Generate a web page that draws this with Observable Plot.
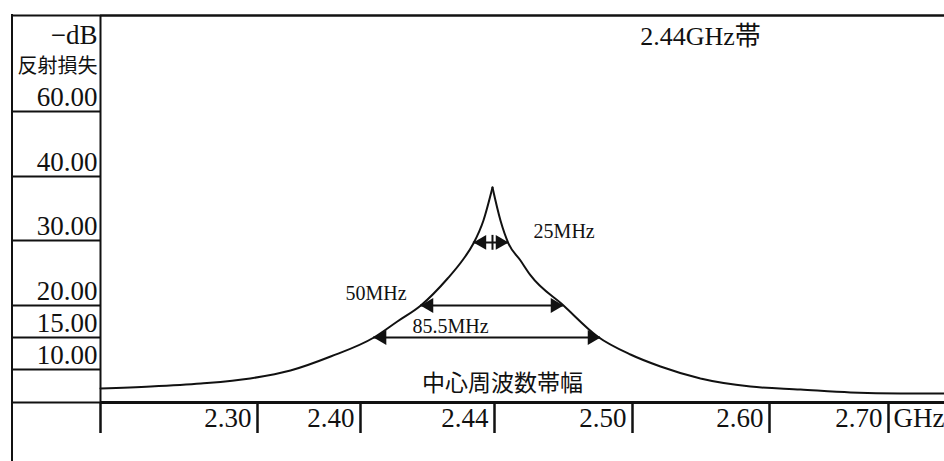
<!DOCTYPE html>
<html><head><meta charset="utf-8">
<script src="https://cdn.jsdelivr.net/npm/d3@7"></script>
<script src="https://cdn.jsdelivr.net/npm/@observablehq/plot@0.6"></script>
<style>
html,body{margin:0;padding:0;background:#fff;}
#wrap{position:relative;width:944px;height:461px;overflow:hidden;background:#fff;}
#outer{position:absolute;left:11px;top:14px;width:0;height:447px;border-left:2px solid #111;}
</style></head><body>
<div id="wrap"><div id="outer"></div></div>
<script>
// ---- data ----
const freqGHz = [2.150, 2.198, 2.246, 2.293, 2.332, 2.371, 2.404, 2.411, 2.418, 2.426, 2.4304, 2.4337, 2.4367, 2.4394,
                 2.4426, 2.4461, 2.4513, 2.4557, 2.470, 2.4848, 2.4991, 2.5204, 2.5496, 2.5861, 2.6261, 2.6681, 2.7107, 2.75];
const returnLossDb = [7.12, 7.42, 7.88, 8.64, 9.85, 12.03, 15.0, 17.5, 20.0, 24.15, 26.92, 29.53, 33.13, 38.28,
                      33.13, 29.53, 26.92, 24.62, 20.0, 15.16, 12.34, 10.47, 8.64, 7.42, 6.97, 6.52, 6.36, 6.36];
const peakIndex = 13; // the resonance (cusp) sample

// axis break points (the chart's axes are not uniform: each break gets its own spacing)
const xBreaks = [2.15, 2.30, 2.40, 2.44, 2.50, 2.60, 2.70, 2.75];
const xBreakSpan = [0, 157, 260, 394, 532, 669, 788, 844];
const yBreaks = [5, 10, 15, 20, 30, 40, 60, 90];
const yBreakSpan = [0, 33, 65, 97, 162, 226, 291, 387];

const xTickValues = [2.30, 2.40, 2.44, 2.50, 2.60, 2.70];
const xTickLabels = ["2.30", "2.40", "2.44", "2.50", "2.60", "2.70"];
const yTickValues = [10, 15, 20, 30, 40, 60];
const yTickLabels = ["10.00", "15.00", "20.00", "30.00", "40.00", "60.00"];

const bandLabels = ["25MHz", "50MHz", "85.5MHz"];
const bandLevelDb = [29.7, 20, 15];
const bandLowGHz = [2.4337, 2.4179, 2.4039];
const bandHighGHz = [2.4461, 2.4700, 2.4861];
const bandLabelGHz = [2.457, 2.3854, 2.4155];
const bandLabelDb = [31.4, 21.85, 16.7];

const peakMarkDb = [28.5, 30.8];

const titleText = "2.44GHz帯";
const titlePos = {f: 2.5496, db: 83.4};
const bandwidthText = "中心周波数帯幅";
const bandwidthPos = {f: 2.4435, db: 7.9};

// ---- tables ----
const curve = [
  ...freqGHz.slice(0, peakIndex + 1).map((f, i) => ({f, db: returnLossDb[i], side: "low"})),
  ...freqGHz.slice(peakIndex).map((f, i) => ({f, db: returnLossDb[i + peakIndex], side: "high"}))
];
const bands = bandLabels.map((label, i) => ({label, db: bandLevelDb[i], lo: bandLowGHz[i], hi: bandHighGHz[i], lf: bandLabelGHz[i], ldb: bandLabelDb[i]}));
const xLabelMap = new Map(xTickValues.map((v, i) => [v, xTickLabels[i]]));
const yLabelMap = new Map(yTickValues.map((v, i) => [v, yTickLabels[i]]));

const xPiece = d3.scaleLinear().domain(xBreaks).range(xBreakSpan);
const yPiece = d3.scaleLinear().domain(yBreaks).range(yBreakSpan);

const serif = "'Liberation Serif', 'Noto Sans CJK JP', serif";
const cjk = "'Noto Sans CJK JP', 'Liberation Serif', sans-serif";
const ink = "#111";

const chart = Plot.plot({
  width: 944,
  height: 461,
  marginLeft: 100,
  marginRight: 0,
  marginTop: 15,
  marginBottom: 59,
  style: {fontFamily: serif, fontSize: "27px", color: ink, background: "transparent", overflow: "visible"},
  x: {transform: xPiece, domain: [xBreakSpan[0], xBreakSpan[xBreakSpan.length - 1]], label: null},
  y: {transform: yPiece, domain: [yBreakSpan[0], yBreakSpan[yBreakSpan.length - 1]], label: null},
  marks: [
    // left column box lines (y axis ticks extended leftwards)
    Plot.axisY(yBreaks, {anchor: "left", tickSize: 88, strokeWidth: 2, tickFormat: () => "", label: null}),
    Plot.axisY(yTickValues, {anchor: "left", tickSize: 0, tickPadding: 3, textAnchor: "end", lineAnchor: "bottom", dy: -6,
      tickFormat: d => yLabelMap.get(d), label: null, fontSize: 27, fontFamily: serif}),
    Plot.text(["−dB"], {frameAnchor: "top-left", lineAnchor: "middle", dx: -3, dy: 20, textAnchor: "end", fontSize: 27, fontFamily: serif}),
    Plot.text(["反射損失"], {frameAnchor: "top-left", lineAnchor: "middle", dx: -3, dy: 51, textAnchor: "end", fontSize: 20, fontFamily: cjk}),
    // x axis ticks (including the frame's left edge extension)
    Plot.axisX([xBreaks[0], ...xTickValues], {anchor: "bottom", tickSize: 31, strokeWidth: 2.5, tickFormat: () => "", label: null}),
    Plot.axisX(xTickValues, {anchor: "bottom", tickSize: 0, tickPadding: 5, textAnchor: "end", dx: -6,
      tickFormat: d => xLabelMap.get(d), label: null, fontSize: 27, fontFamily: serif}),
    Plot.text(["GHz"], {x: [xTickValues[xTickValues.length - 1]], frameAnchor: "bottom", lineAnchor: "middle", dy: 16, dx: 5, textAnchor: "start", fontSize: 27, fontFamily: serif}),
    // frame lines
    Plot.ruleY([yBreaks[0]], {strokeWidth: 3, stroke: ink}),
    Plot.ruleY([yBreaks[yBreaks.length - 1]], {strokeWidth: 2.5, stroke: ink}),
    Plot.ruleX([xBreaks[0]], {strokeWidth: 2, stroke: ink}),
    // response curve (two branches meeting in a cusp at resonance)
    Plot.line(curve, {x: "f", y: "db", z: "side", curve: "monotone-x", stroke: ink, strokeWidth: 2, strokeLinejoin: "miter"}),
    // bandwidth arrows
    Plot.ruleY(bands, {y: "db", x1: "lo", x2: "hi", stroke: ink, strokeWidth: 2}),
    Plot.dot(bands, {x: "lo", y: "db", symbol: "triangle", r: 5.5, rotate: -90, fill: ink, stroke: null, dx: 8.5}),
    Plot.dot(bands, {x: "hi", y: "db", symbol: "triangle", r: 5.5, rotate: 90, fill: ink, stroke: null, dx: -8.5}),
    Plot.ruleX([{f: freqGHz[peakIndex], a: peakMarkDb[0], b: peakMarkDb[1]}], {x: "f", y1: "a", y2: "b", stroke: ink, strokeWidth: 2}),
    Plot.text(bands, {x: "lf", y: "ldb", text: "label", textAnchor: "start", fontSize: 20, fontFamily: serif, fill: ink}),
    // titles
    Plot.text([titlePos], {x: "f", y: "db", text: () => titleText, textAnchor: "middle", fontSize: 26, fontFamily: serif, fill: ink}),
    Plot.text([bandwidthPos], {x: "f", y: "db", text: () => bandwidthText, textAnchor: "middle", fontSize: 23, fontFamily: cjk, fill: ink})
  ]
});
document.getElementById("wrap").appendChild(chart);
</script>
</body></html>
